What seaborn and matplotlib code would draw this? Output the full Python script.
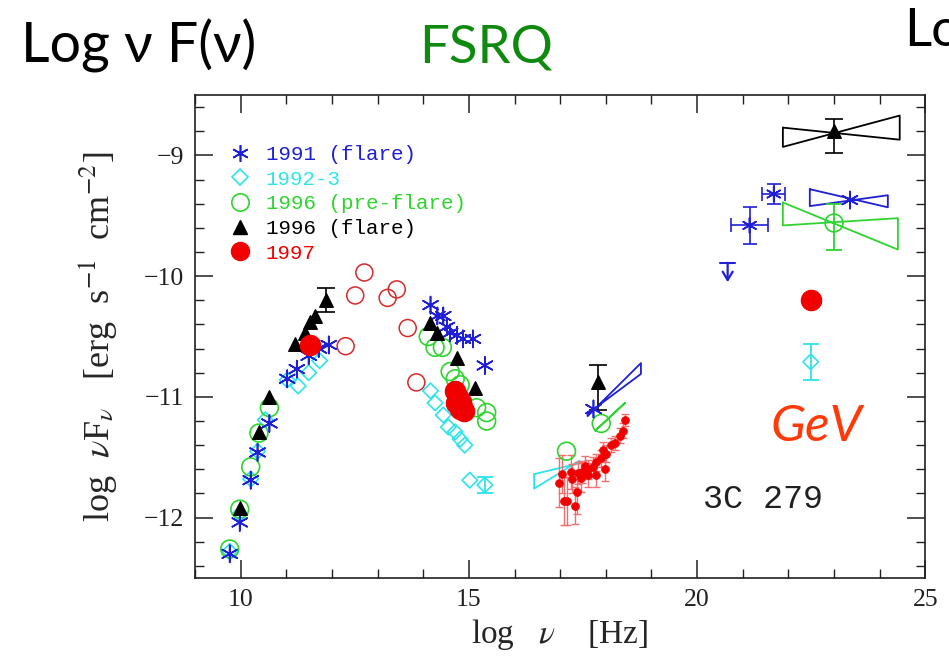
import matplotlib
matplotlib.use("Agg")
import matplotlib.pyplot as plt
from matplotlib.lines import Line2D
from matplotlib.ticker import MultipleLocator
import numpy as np
import pandas as pd
import seaborn as sns

# ---------------- data (log nu [Hz], log nuFnu [erg s^-1 cm^-2]) ----------------
# 1991 flare
x91 = [9.76, 9.98, 10.22, 10.37, 10.63, 11.02, 11.23, 11.49, 11.71, 11.93,
       14.16, 14.31, 14.44, 14.52, 14.59, 14.74, 14.87, 15.09, 15.35, 17.73, 23.35]
y91 = [-12.30, -12.04, -11.69, -11.46, -11.22, -10.85, -10.77, -10.66, -10.60, -10.57,
       -10.24, -10.33, -10.33, -10.42, -10.47, -10.49, -10.52, -10.52, -10.74, -11.10, -9.37]
# 1991 EGRET points with error boxes
x91g = [21.15, 21.68]
y91g = [-9.58, -9.32]
x91g_err = [0.40, 0.25]
y91g_err = [0.15, 0.08]
# 1991 upper limit
x91_ul = [20.67]
y91_ul = [-9.89]

# 1992-3
x92 = [9.76, 9.98, 10.22, 10.37, 10.54, 11.02, 11.26, 11.49, 11.73,
       14.16, 14.26, 14.44, 14.55, 14.70, 14.81, 14.91, 15.02, 15.35, 22.49]
y92 = [-12.28, -11.97, -11.68, -11.45, -11.19, -10.86, -10.91, -10.80, -10.70,
       -10.95, -11.05, -11.15, -11.25, -11.29, -11.35, -11.40, -11.69, -11.73, -10.71]
x92_err_pts = [15.35, 22.49]
y92_err_pts = [-11.73, -10.71]
y92_err = [0.07, 0.15]

# 1996 pre-flare
x96p = [9.76, 9.98, 10.22, 10.40, 10.63, 14.11, 14.26, 14.42, 14.59, 14.70, 14.81,
        15.17, 15.39, 15.39, 17.14, 17.90, 23.00]
y96p = [-12.26, -11.93, -11.58, -11.30, -11.09, -10.50, -10.59, -10.59, -10.79, -10.85, -10.90,
        -11.09, -11.13, -11.20, -11.45, -11.22, -9.56]
x96p_err_pts = [23.00]
y96p_err_pts = [-9.56]
y96p_err_lo = [0.22]
y96p_err_hi = [0.16]

# 1996 flare
x96f = [9.98, 10.40, 10.62, 11.20, 11.41, 11.52, 11.62, 11.88,
        14.14, 14.31, 14.74, 15.13, 17.84, 23.00]
y96f = [-11.92, -11.29, -11.00, -10.56, -10.47, -10.38, -10.33, -10.20,
        -10.39, -10.47, -10.68, -10.93, -10.88, -8.80]
x96f_err_pts = [11.88, 17.84, 23.00]
y96f_err_pts = [-10.20, -10.88, -8.80]
y96f_err_lo = [0.10, 0.23, 0.18]
y96f_err_hi = [0.10, 0.14, 0.10]

# 1997 (radio-optical and GeV)
x97 = [11.52, 14.70, 14.76, 14.82, 14.86, 14.90, 14.80, 14.72, 22.49]
y97 = [-10.57, -10.95, -11.00, -11.04, -11.08, -11.12, -11.10, -11.05, -10.20]
# 1997 X-ray spectrum
x97x = [18.42, 18.38, 18.31, 18.20, 18.12, 18.01, 17.94, 17.90, 17.79, 17.73, 17.62,
        17.55, 17.47, 17.40, 17.99, 17.79, 17.62, 17.45, 17.23, 17.04, 17.26, 16.97,
        17.36, 17.14, 17.08, 17.33]
y97x = [-11.19, -11.28, -11.32, -11.38, -11.40, -11.47, -11.44, -11.51, -11.54, -11.58, -11.60,
        -11.57, -11.62, -11.63, -11.60, -11.65, -11.65, -11.67, -11.62, -11.64, -11.68, -11.71,
        -11.79, -11.86, -11.86, -11.90]
y97x_err = [0.05, 0.06, 0.06, 0.06, 0.06, 0.07, 0.07, 0.07, 0.07, 0.08, 0.08,
            0.08, 0.09, 0.09, 0.10, 0.10, 0.10, 0.12, 0.14, 0.16, 0.12, 0.20,
            0.18, 0.20, 0.20, 0.15]

# archival points (open red circles)
xarc = [12.30, 12.51, 12.71, 13.22, 13.42, 13.66, 13.85]
yarc = [-10.58, -10.16, -9.97, -10.18, -10.11, -10.43, -10.88]

# power-law bowties: x range, left (top, bottom), right (top, bottom)
bt_names = ["96f_gev", "91_gev", "96p_gev", "91_x", "92_x", "96p_x"]
bt_x_left = [21.88, 22.47, 21.88, 17.60, 16.43, 17.77]
bt_x_right = [24.44, 24.18, 24.40, 18.77, 17.42, 18.42]
bt_left_top = [-8.77, -9.28, -9.39, -11.14, -11.64, -11.28]
bt_left_bot = [-8.93, -9.42, -9.58, -11.16, -11.76, -11.28]
bt_right_top = [-8.67, -9.33, -9.52, -10.72, -11.53, -11.05]
bt_right_bot = [-8.87, -9.43, -9.78, -10.81, -11.55, -11.05]

legend_labels = ["1991 (flare)", "1992-3", "1996 (pre-flare)", "1996 (flare)", "1997"]

# ---------------- style ----------------
BLUE = "#1f1fd6"
CYAN = "#2fe3ea"
GREEN = "#2fd42f"
BLACK = "#000000"
RED = "#f00000"
DARKRED = "#d42a2a"
ERRRED = "#f07070"
ASTER = (6, 2, 0)

sns.set_theme(style="ticks")
plt.rcParams.update({
    "font.family": ["Liberation Serif", "DejaVu Serif"],
    "mathtext.fontset": "stix",
    "xtick.direction": "in",
    "ytick.direction": "in",
    "xtick.top": True,
    "ytick.right": True,
    "xtick.major.size": 13,
    "ytick.major.size": 13,
    "xtick.minor.size": 6.5,
    "ytick.minor.size": 6.5,
    "xtick.major.width": 1.1,
    "ytick.major.width": 1.1,
    "xtick.minor.width": 1.0,
    "ytick.minor.width": 1.0,
    "axes.linewidth": 1.2,
    "axes.edgecolor": "#202020",
    "xtick.color": "#202020",
    "ytick.color": "#202020",
})

fig = plt.figure(figsize=(9.49, 6.58), dpi=100)
ax = fig.add_axes([0.2055, 0.1216, 0.7695, 0.734])


def points(x, y, marker, size, color, filled, lw=1.2, z=3):
    df = pd.DataFrame({"x": x, "y": y})
    sns.scatterplot(data=df, x="x", y="y", marker=marker, s=size, color=color,
                    linewidth=lw, zorder=z, legend=False, ax=ax)
    coll = ax.collections[-1]
    coll.set_facecolor(color if filled else "none")
    coll.set_edgecolor(color)
    coll.set_linewidth(lw)


def bowtie(i, color):
    xs = [bt_x_left[i], bt_x_right[i], bt_x_right[i], bt_x_left[i], bt_x_left[i]]
    ys = [bt_left_top[i], bt_right_bot[i], bt_right_top[i], bt_left_bot[i], bt_left_top[i]]
    ax.plot(xs, ys, color=color, lw=1.3, zorder=2)


# bowties
bowtie(0, BLACK)
bowtie(1, BLUE)
bowtie(2, GREEN)
bowtie(3, BLUE)
bowtie(4, CYAN)
bowtie(5, GREEN)

# error bars
ax.errorbar(x97x, y97x, yerr=y97x_err, fmt="none", ecolor=ERRRED, elinewidth=1.0,
            capsize=3, capthick=1.0, zorder=2)
ax.errorbar(x91g, y91g, xerr=x91g_err, yerr=y91g_err, fmt="none", ecolor=BLUE,
            elinewidth=1.2, capsize=5, capthick=1.2, zorder=2)
ax.errorbar(x92_err_pts, y92_err_pts, yerr=y92_err, fmt="none", ecolor=CYAN,
            elinewidth=1.3, capsize=6, capthick=1.3, zorder=2)
ax.errorbar(x96p_err_pts, y96p_err_pts, yerr=[y96p_err_lo, y96p_err_hi], fmt="none",
            ecolor=GREEN, elinewidth=1.3, capsize=6, capthick=1.3, zorder=2)
ax.errorbar(x96f_err_pts, y96f_err_pts, yerr=[y96f_err_lo, y96f_err_hi], fmt="none",
            ecolor=BLACK, elinewidth=1.2, capsize=6.5, capthick=1.2, zorder=2)

# upper limit
for xu, yu in zip(x91_ul, y91_ul):
    ax.plot([xu - 0.17, xu + 0.17], [yu, yu], color=BLUE, lw=1.5, zorder=3)
    ax.annotate("", xy=(xu, yu - 0.16), xytext=(xu, yu),
                arrowprops=dict(arrowstyle="->,head_length=0.5,head_width=0.3",
                                color=BLUE, lw=1.6, shrinkA=0, shrinkB=0))

# data points
points(xarc, yarc, "o", 150, DARKRED, False, lw=1.1)
points(x92, y92, "D", 62, CYAN, False, lw=1.2)
points(x96p, y96p, "o", 165, GREEN, False, lw=1.2)
points(x91, y91, ASTER, 150, BLUE, False, lw=1.2, z=4)
points(x91g, y91g, ASTER, 110, BLUE, False, lw=1.2, z=4)
points(x96f, y96f, "^", 95, BLACK, True, lw=1.0, z=5)
points(x97x, y97x, "o", 32, RED, True, lw=0.5, z=5)
points(x97, y97, "o", 210, RED, True, lw=1.0, z=6)

# axes
ax.set_xlim(9, 25)
ax.set_ylim(-12.5, -8.5)
ax.xaxis.set_major_locator(MultipleLocator(5))
ax.xaxis.set_minor_locator(MultipleLocator(1))
ax.yaxis.set_major_locator(MultipleLocator(1))
ax.yaxis.set_minor_locator(MultipleLocator(0.2))
ax.tick_params(which="both", labelsize=18.5, pad=8)
ax.set_xlabel(r"log   $\nu$    [Hz]", fontsize=24, labelpad=4)
ax.set_ylabel(r"log  $\nu$F$_\nu$   [erg  s$^{-1}$  cm$^{-2}$]", fontsize=26, labelpad=18)
for lab in ax.get_xticklabels() + ax.get_yticklabels():
    lab.set_color("#202020")

# legend
colors = [BLUE, CYAN, GREEN, BLACK, RED]
handles = [
    Line2D([], [], ls="none", marker=ASTER, markersize=12, mec=BLUE, mew=1.2),
    Line2D([], [], ls="none", marker="D", markersize=8, mfc="none", mec=CYAN, mew=1.2),
    Line2D([], [], ls="none", marker="o", markersize=12.5, mfc="none", mec=GREEN, mew=1.2),
    Line2D([], [], ls="none", marker="^", markersize=10, mfc=BLACK, mec=BLACK),
    Line2D([], [], ls="none", marker="o", markersize=13, mfc=RED, mec=RED),
]
ax.legend(handles, legend_labels, loc="upper left", bbox_to_anchor=(0.03, 0.918),
          frameon=False, labelcolor=colors, borderpad=0, handlelength=1.2,
          handletextpad=0.65, labelspacing=0.27,
          prop={"family": ["Liberation Mono", "DejaVu Sans Mono"], "size": 15})

ax.text(0.695, 0.145, "3C 279", transform=ax.transAxes, fontsize=24,
        family=["Liberation Mono", "DejaVu Sans Mono"], color="#202020", va="baseline")

# headline text
fig.text(0.022, 0.905, "Log ν F(ν)", fontsize=40, family=["Lato", "DejaVu Sans"],
         color="black", va="baseline")
fig.text(0.442, 0.905, "FSRQ", fontsize=38, family=["Lato", "DejaVu Sans"],
         color="#0f8a0f", va="baseline")
fig.text(0.953, 0.93, "Lo", fontsize=38, family=["Lato", "DejaVu Sans"],
         color="black", va="baseline")
fig.text(0.812, 0.33, "GeV", fontsize=37, family=["Lato", "DejaVu Sans"],
         style="italic", color="#ff3a0a", va="baseline")

fig.savefig("out.png", dpi=100)
